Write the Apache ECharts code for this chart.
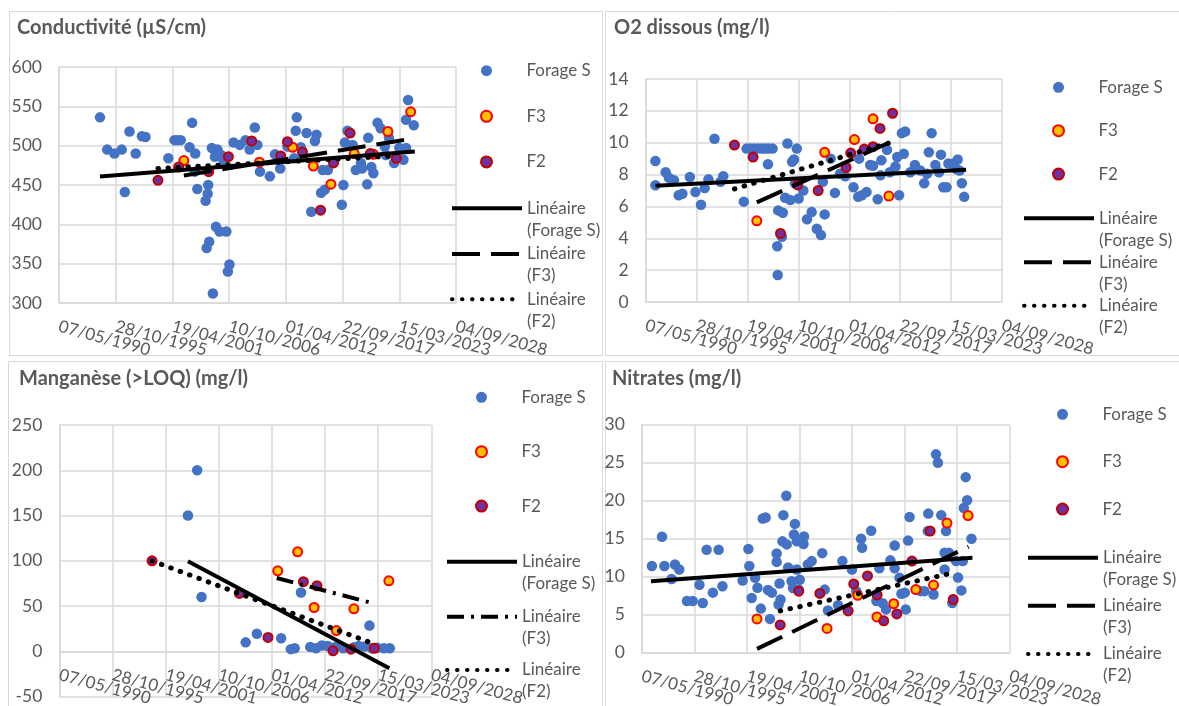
<!DOCTYPE html>
<html><head><meta charset="utf-8">
<script src="https://cdn.jsdelivr.net/npm/echarts@6/dist/echarts.min.js"></script>
<style>html,body{margin:0;padding:0;background:#fff}#c{width:1179px;height:706px}</style>
</head><body><div id="c"></div>
<script>
// ---- DATA (x = decimal year, y = value) ----
const condS = [[1994.3,536],[1995.0,495],[1995.7,490],[1996.4,495],[1996.7,441],[1997.15,518],[1997.75,490],[1998.35,512],[1998.7,511],[2000.9,484],[2001.5,507],[2001.8,507],[2002.1,507],[2002.95,498],[2003.2,529],[2003.5,490],[2003.45,467],[2003.7,445],[2004.75,450],[2004.7,439],[2004.5,430],[2005.1,497],[2005.4,486],[2005.65,495],[2006.0,488],[2006.2,482],[2005.5,397],[2005.85,391],[2006.5,391],[2004.85,378],[2004.6,370],[2006.8,349],[2006.65,340],[2005.2,312],[2007.2,504],[2007.8,501],[2008.35,507],[2008.75,495],[2009.25,523],[2009.5,501],[2009.75,467],[2010.7,461],[2011.2,489],[2011.7,471],[2012.4,499],[2013.3,536],[2013.2,519],[2014.25,516],[2015.2,514],[2015.05,506],[2013.7,498],[2013.05,484],[2014.7,416],[2015.65,440],[2016.0,444],[2015.8,469],[2016.3,469],[2017.65,425],[2017.8,450],[2017.95,504],[2018.2,519],[2018.7,501],[2019.0,469],[2019.5,478],[2019.6,471],[2020.2,510],[2020.1,451],[2020.5,473],[2020.7,465],[2021.1,529],[2021.4,522],[2021.8,499],[2022.2,510],[2021.9,488],[2022.7,478],[2023.2,497],[2023.85,497],[2023.6,482],[2023.85,533],[2024.05,558],[2024.6,526]];
const condF3 = [[2002.4,481],[2009.7,479],[2012.9,498],[2014.9,474],[2016.6,451],[2018.85,490],[2020.7,489],[2022.1,518],[2024.3,543]];
const condF2 = [[1999.9,456],[2001.9,473],[2004.8,467],[2006.7,486],[2008.95,506],[2011.75,487],[2012.4,505],[2013.85,492],[2015.6,418],[2016.85,478],[2018.45,516],[2020.4,490],[2022.9,484]];
const condTrendS = [[1994.3,460.7],[2024.7,492.5]];
const condTrendF3 = [[2002.4,462],[2024.4,508.7]];
const condTrendF2 = [[1999.9,471],[2022.9,487]];

const o2S = [[1991.4,8.85],[1991.4,7.33],[1992.5,8.15],[1992.85,7.8],[1993.4,7.65],[1993.9,6.7],[1994.3,6.8],[1995.1,7.85],[1995.7,6.9],[1996.3,6.1],[1996.7,7.15],[1997.1,7.7],[1997.75,10.25],[1998.4,7.55],[1998.7,7.9],[2000.9,6.3],[2001.2,9.63],[2001.6,9.63],[2002.0,9.63],[2002.4,9.63],[2002.8,9.63],[2003.2,9.63],[2003.6,9.63],[2004.0,9.63],[2003.5,8.65],[2005.6,9.95],[2006.6,9.63],[2006.1,8.8],[2006.3,8.95],[2005.35,6.55],[2005.9,6.4],[2006.8,6.5],[2007.3,7.0],[2004.6,5.75],[2005.1,5.6],[2004.5,3.5],[2005.0,4.1],[2004.55,1.7],[2006.4,7.45],[2007.7,5.2],[2008.2,5.65],[2008.75,4.6],[2009.2,4.2],[2009.6,5.5],[2009.4,7.55],[2010.25,9.0],[2010.7,6.85],[2011.25,8.05],[2011.8,7.9],[2012.7,7.2],[2013.2,6.6],[2013.6,6.7],[2014.1,6.9],[2013.3,9.0],[2014.5,8.6],[2014.8,8.55],[2015.3,6.45],[2015.7,8.9],[2015.6,7.95],[2016.3,9.55],[2016.6,8.15],[2017.2,8.5],[2017.4,9.1],[2017.6,6.7],[2017.9,10.6],[2018.25,10.7],[2018.1,9.3],[2018.8,8.15],[2019.3,8.6],[2019.9,8.25],[2020.3,7.45],[2020.6,8.05],[2020.8,9.4],[2021.1,10.6],[2021.5,8.6],[2021.9,8.15],[2022.1,9.25],[2022.35,7.2],[2022.7,7.2],[2022.9,8.7],[2023.45,8.7],[2023.9,8.95],[2024.1,8.25],[2024.35,7.45],[2024.6,6.6],[2023.75,8.35]];
const o2F3 = [[2002.3,5.1],[2009.6,9.4],[2012.8,10.2],[2014.8,11.5],[2016.5,6.65]];
const o2F2 = [[1999.9,9.85],[2001.9,9.1],[2004.85,4.3],[2006.7,7.35],[2008.9,7.0],[2011.9,8.45],[2012.4,9.35],[2013.85,9.6],[2014.8,9.75],[2015.55,10.9],[2016.9,11.85]];
const o2TrendS = [[1991.4,7.3],[2024.8,8.3]];
const o2TrendF3 = [[2002.3,6.25],[2016.5,10.0]];
const o2TrendF2 = [[1999.9,7.1],[2016.9,10.05]];

const mnS = [[2003.6,150],[2004.55,200],[2005.0,60],[2009.55,10],[2010.7,19.5],[2013.2,14.5],[2015.25,65],[2014.2,2.5],[2014.6,3.5],[2016.2,5],[2016.8,3.5],[2017.4,6.5],[2018.0,6],[2018.8,5],[2019.6,3.5],[2020.7,4.5],[2021.2,6],[2021.8,5.5],[2022.3,28.5],[2022.55,3.5],[2023.1,4],[2023.8,3.5],[2024.4,3.5]];
const mnF3 = [[2012.85,89],[2014.9,110],[2016.6,48.5],[2018.9,23],[2020.7,47],[2024.3,78]];
const mnF2 = [[1999.9,100],[2008.9,64],[2011.85,15.5],[2015.5,77],[2016.9,72.5],[2018.55,0.7],[2020.4,2.5],[2022.8,3.5]];
const mnTrendS = [[2003.6,99.5],[2024.35,-18.5]];
const mnTrendF3 = [[2012.75,81],[2022.9,52.5]];
const mnTrendF2 = [[1999.9,100],[2022.6,9]];

const no3S = [[1991.4,11.4],[1992.45,15.25],[1992.7,11.4],[1993.8,11.6],[1994.25,10.95],[1993.45,9.7],[1995.05,6.8],[1995.65,6.8],[1996.7,6.55],[1996.35,8.95],[1997.1,13.55],[1998.35,13.55],[1997.75,7.9],[1998.75,8.75],[2000.85,9.5],[2001.45,13.65],[2001.55,11.4],[2002.15,9.85],[2002.4,8.55],[2001.8,7.2],[2002.75,5.8],[2002.95,17.65],[2003.25,17.8],[2003.5,8.25],[2003.7,4.45],[2003.9,7.9],[2004.4,13.05],[2004.4,11.95],[2004.8,7.0],[2004.6,6.35],[2004.7,9.1],[2005.0,14.65],[2005.4,20.65],[2005.1,18.1],[2005.45,14.25],[2006.3,16.95],[2006.2,15.55],[2006.5,14.65],[2007.2,14.3],[2007.25,15.3],[2005.6,11.2],[2005.95,9.4],[2006.1,8.5],[2006.5,10.95],[2006.8,9.6],[2006.7,8.3],[2007.65,11.6],[2008.05,12.05],[2009.15,13.1],[2009.4,8.3],[2009.75,5.55],[2010.8,6.25],[2011.25,12.05],[2012.25,10.95],[2012.7,8.1],[2013.2,15.0],[2013.3,13.8],[2014.25,16.05],[2014.8,6.8],[2015.1,11.1],[2015.45,6.5],[2015.8,5.7],[2016.25,12.15],[2016.7,14.1],[2016.7,11.1],[2017.2,9.85],[2017.4,7.75],[2017.75,7.9],[2017.85,5.7],[2018.1,14.75],[2018.25,17.85],[2019.4,8.1],[2019.8,8.1],[2020.2,18.3],[2020.15,16.0],[2020.75,7.65],[2021.0,26.1],[2021.2,25.0],[2021.55,18.1],[2021.9,13.15],[2022.05,16.0],[2022.35,13.15],[2021.9,10.95],[2022.7,6.55],[2023.1,12.05],[2023.3,9.9],[2023.65,8.2],[2023.9,19.05],[2024.1,23.1],[2024.25,20.05],[2024.7,15.0],[2023.8,12.05]];
const no3F3 = [[2002.35,4.45],[2009.65,3.2],[2012.85,7.55],[2014.85,4.7],[2016.6,6.45],[2018.9,8.3],[2020.75,8.9],[2022.15,17.05],[2024.35,18.05]];
const no3F2 = [[2004.77,3.65],[2006.7,8.1],[2008.9,7.8],[2011.85,5.5],[2012.43,9.05],[2013.87,10.1],[2014.87,7.6],[2015.56,4.2],[2016.92,5.1],[2018.5,12.05],[2020.4,16.0],[2022.8,7.0]];
const no3TrendS = [[1991.3,9.4],[2024.8,12.5]];
const no3TrendF3 = [[2002.35,0.5],[2024.4,13.95]];
const no3TrendF2 = [[2004.77,5.5],[2022.8,10.5]];

const titles = ['Conductivité (µS/cm)','O2 dissous (mg/l)','Manganèse (>LOQ) (mg/l)','Nitrates (mg/l)'];
const seriesNames = ['Forage S','F3','F2'];
const trendNames = ['Linéaire (Forage S)','Linéaire (F3)','Linéaire (F2)'];
const xRange = {min:33000, max:47000, interval:2000}; // Excel date serials 07/05/1990 .. 04/09/2028
const yRanges = [{min:300,max:600,interval:50},{min:0,max:14,interval:2},{min:-50,max:250,interval:50},{min:0,max:30,interval:5}];

// ---- helpers ----
const FONT = 'Lato, "Open Sans", sans-serif';
const GRAY = '#595959';
const GRID = '#d9d9d9';
function toSerial(y){ return 25569 + (y - 1970) * 365.25; }
function conv(arr){ return arr.map(p => [toSerial(p[0]), p[1]]); }
function fmtDate(s){
  const d = new Date(Date.UTC(1899,11,30) + Math.round(s) * 86400000);
  const p = n => String(n).padStart(2,'0');
  return p(d.getUTCDate()) + '/' + p(d.getUTCMonth()+1) + '/' + d.getUTCFullYear();
}
// two label layers (even / odd ticks) so that every date label stays visible
function labelFmt(parity){
  return v => (Math.round((v - xRange.min) / xRange.interval) % 2 === parity) ? fmtDate(v) : '';
}

const panels = [
  {key:'c', S:condS, F3:condF3, F2:condF2, tS:condTrendS, tF3:condTrendF3, tF2:condTrendF2, dashF3:[28,11],
   grid:{left:59,top:67,width:397,height:236}, title:[17,18], lx:450, ly:[70.7,116.3,162.3,208.3,254,299.3]},
  {key:'o', S:o2S, F3:o2F3, F2:o2F2, tS:o2TrendS, tF3:o2TrendF3, tF2:o2TrendF2, dashF3:[28,11],
   grid:{left:645.6,top:79,width:356.5,height:223}, title:[614,18], lx:1022, ly:[87.3,130.7,174.3,218.3,262.3,305.7]},
  {key:'m', S:mnS, F3:mnF3, F2:mnF2, tS:mnTrendS, tF3:mnTrendF3, tF2:mnTrendF2, dashF3:[17,7,3,7],
   grid:{left:59.3,top:425,width:372,height:271.7}, title:[19,369], lx:445, ly:[397.3,451.7,506.7,561.7,616.7,670]},
  {key:'n', S:no3S, F3:no3F3, F2:no3F2, tS:no3TrendS, tF3:no3TrendF3, tF2:no3TrendF2, dashF3:[28,11],
   grid:{left:641.8,top:424.7,width:367.8,height:228}, title:[612,369], lx:1026, ly:[414.3,461.7,509.3,557.7,605.7,654]}
];

const grids=[], xAxes=[], yAxes=[], series=[], legends=[];
const textStyle = {color:GRAY, fontSize:17, fontFamily:FONT, lineHeight:22};
panels.forEach((p,i)=>{
  grids.push(Object.assign({containLabel:false, outerBoundsMode:'none'}, p.grid));
  const yr = yRanges[i];
  // x axis sits on the zero line when the y range spans zero
  const zeroOffset = (yr.min < 0) ? -p.grid.height * (0 - yr.min) / (yr.max - yr.min) : 0;
  [0,1].forEach(par=>{
    xAxes.push({type:'value', gridIndex:i, min:xRange.min, max:xRange.max, interval:xRange.interval,
      position:'bottom', offset:zeroOffset,
      axisLine:{show:par===0, onZero:false, lineStyle:{color:GRID, width:1.5}}, axisTick:{show:false},
      splitLine:{show:par===0, lineStyle:{color:GRID, width:1.5}},
      axisLabel:{rotate:-15, margin:23, color:GRAY, fontSize:17, fontFamily:FONT, interval:0, hideOverlap:false,
        showMinLabel:true, showMaxLabel:true, formatter:labelFmt(par)}});
  });
  yAxes.push({type:'value', gridIndex:i, min:yr.min, max:yr.max, interval:yr.interval,
    axisLine:{show:true, lineStyle:{color:GRID, width:1.5}}, axisTick:{show:false},
    splitLine:{show:true, lineStyle:{color:GRID, width:1.5}},
    axisLabel:{margin:17, color:GRAY, fontSize:17.5, fontFamily:FONT, hideOverlap:false}});
  const n = k => p.key + '|' + k;
  const xi = 2*i;
  series.push({type:'scatter', name:n(seriesNames[0]), xAxisIndex:xi, yAxisIndex:i, data:conv(p.S), symbol:'circle', symbolSize:10.5, itemStyle:{color:'#4472C4', opacity:1}, z:2});
  series.push({type:'scatter', name:n(seriesNames[1]), xAxisIndex:xi, yAxisIndex:i, data:conv(p.F3), symbol:'circle', symbolSize:9, itemStyle:{color:'#FFC000', borderColor:'#FF0000', borderWidth:2, opacity:1}, z:2});
  series.push({type:'scatter', name:n(seriesNames[2]), xAxisIndex:xi, yAxisIndex:i, data:conv(p.F2), symbol:'circle', symbolSize:9, itemStyle:{color:'#7030A0', borderColor:'#C00000', borderWidth:2, opacity:1}, z:2});
  series.push({type:'line', name:n(trendNames[0]), xAxisIndex:xi, yAxisIndex:i, data:conv(p.tS), symbol:'none', silent:true, itemStyle:{color:'#000'}, lineStyle:{color:'#000', width:4, type:'solid'}, z:3});
  series.push({type:'line', name:n(trendNames[1]), xAxisIndex:xi, yAxisIndex:i, data:conv(p.tF3), symbol:'none', silent:true, itemStyle:{color:'#000'}, lineStyle:{color:'#000', width:4, type:p.dashF3}, z:3});
  series.push({type:'line', name:n(trendNames[2]), xAxisIndex:xi, yAxisIndex:i, data:conv(p.tF2), symbol:'none', silent:true, itemStyle:{color:'#000'}, lineStyle:{color:'#000', width:5, type:[0.5,9.5], cap:'round'}, z:3});
  legends.push({orient:'vertical', left:p.lx+30, top:p.ly[0]-11, padding:0, itemWidth:70, itemHeight:11,
    itemGap:(p.ly[1]-p.ly[0])-22, icon:'circle', data:seriesNames.map(n), formatter:s=>s.split('|')[1], textStyle:textStyle});
  trendNames.forEach((ln,j)=>{
    legends.push({orient:'vertical', left:p.lx, top:p.ly[3+j]-33, padding:0, itemWidth:70, itemHeight:10,
      itemStyle:{opacity:0}, lineStyle:{width:4},
      data:[n(ln)], formatter:s=>'\n'+s.split('|')[1].replace(' ', '\n'),
      textStyle:textStyle});
  });
});

const chart = echarts.init(document.getElementById('c'), null, {renderer:'canvas'});
chart.setOption({
  animation:false,
  backgroundColor:'#fff',
  title: titles.map((t,i)=>({text:t, left:panels[i].title[0], top:panels[i].title[1], padding:0,
    textStyle:{fontFamily:FONT, fontSize:20, fontWeight:'bold', color:GRAY}})),
  graphic:[
    {type:'rect', silent:true, z:-10, shape:{x:9.5,y:11.5,width:593,height:344}, style:{fill:'transparent', stroke:GRID, lineWidth:1}},
    {type:'rect', silent:true, z:-10, shape:{x:605.5,y:11.5,width:600,height:344}, style:{fill:'transparent', stroke:GRID, lineWidth:1}},
    {type:'rect', silent:true, z:-10, shape:{x:8.5,y:361.5,width:594,height:360}, style:{fill:'transparent', stroke:GRID, lineWidth:1}},
    {type:'rect', silent:true, z:-10, shape:{x:605.5,y:361.5,width:600,height:360}, style:{fill:'transparent', stroke:GRID, lineWidth:1}}
  ],
  grid:grids, xAxis:xAxes, yAxis:yAxes, series:series, legend:legends
});
</script></body></html>
